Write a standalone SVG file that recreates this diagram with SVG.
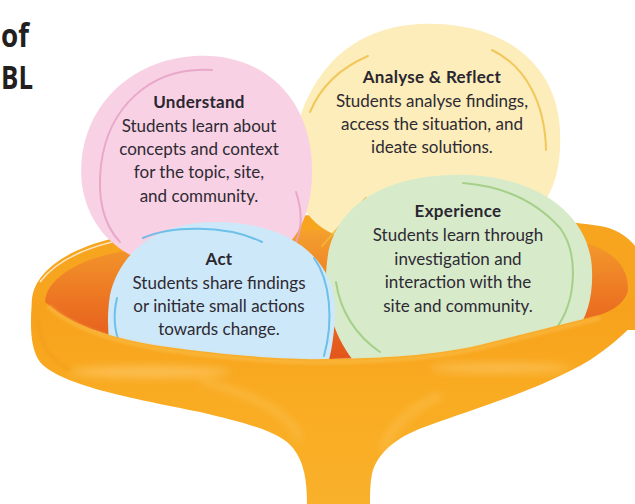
<svg xmlns="http://www.w3.org/2000/svg" width="635" height="504" viewBox="0 0 635 504">
  <defs>
    <linearGradient id="gInterior" x1="0" y1="230" x2="0" y2="360" gradientUnits="userSpaceOnUse">
      <stop offset="0" stop-color="#F4A02E"/>
      <stop offset="0.55" stop-color="#EC7422"/>
      <stop offset="1" stop-color="#E2541B"/>
    </linearGradient>
    <linearGradient id="gFace" x1="0" y1="300" x2="0" y2="504" gradientUnits="userSpaceOnUse">
      <stop offset="0" stop-color="#F7A11C"/>
      <stop offset="0.5" stop-color="#F9AC22"/>
      <stop offset="1" stop-color="#F9B02A"/>
    </linearGradient>
    <filter id="soft" x="-20%" y="-50%" width="140%" height="200%">
      <feGaussianBlur stdDeviation="4"/>
    </filter>
    <filter id="softer" x="-20%" y="-50%" width="140%" height="200%">
      <feGaussianBlur stdDeviation="1.5"/>
    </filter>
  </defs>
  <style>
    .head { font-family: Lato, "Liberation Sans", sans-serif; font-weight: 700; font-size: 17px; fill: #2a2630; text-anchor: middle; letter-spacing: 0.3px; }
    .body { font-family: Lato, "Liberation Sans", sans-serif; font-weight: 400; font-size: 17px; fill: #2e2a33; text-anchor: middle; }
    .title { font-family: "Open Sans", "Liberation Sans", sans-serif; font-weight: 700; font-size: 32px; fill: #231f20; }
    .arc { fill: none; stroke-width: 2; stroke-linecap: round; opacity: 0.85; }
  </style>

  <rect width="635" height="504" fill="#ffffff"/>

  <!-- heading tail at the top left -->
  <g id="title">
    <text class="title" x="1" y="47" textLength="28" lengthAdjust="spacingAndGlyphs">of</text>
    <text class="title" x="1" y="89" textLength="32" lengthAdjust="spacingAndGlyphs">BL</text>
  </g>

  <!-- funnel: back rim and inside -->
  <g id="funnel-back">
    <path d="M32,305 C30,280 55,252 115,238 C250,208 470,206 600,226 C625,230 642,248 650,275 L650,330 L32,330 Z" fill="#F7A41E"/>
    <path d="M45,302 C46,280 75,262 110,254 C250,224 450,222 580,242 C610,248 628,265 628,288 C628,300 615,310 600,315 C560,325 520,335 480,345 C440,354 400,358 330,359 C290,360 230,356 160,346 C110,338 70,325 45,302 Z" fill="url(#gInterior)"/>
    <path d="M40,282 C55,262 80,250 112,242" fill="none" stroke="#ffffff" stroke-width="1.5" opacity="0.7"/>
  </g>

  <!-- Analyse & Reflect -->
  <g id="node-analyse">
    <path d="M420,24 C500,21 556,60 560,130 C563,190 540,232 470,242 C400,252 330,250 305,210 C285,170 290,110 330,64 C355,37 385,26 420,24 Z" fill="#FCEDBA"/>
    <path class="arc" d="M310,112 C320,88 340,68 368,56" stroke="#F0C04A"/>
    <path class="arc" d="M492,50 C525,66 545,102 546,150" stroke="#F0C04A"/>
    <path class="arc" d="M366,198 C350,215 336,230 322,246" stroke="#F0B93A"/>
    <text class="head" x="432" y="83">Analyse &amp; Reflect</text>
    <text class="body" x="432" y="107">Students analyse findings,</text>
    <text class="body" x="432" y="130">access the situation, and</text>
    <text class="body" x="432" y="153">ideate solutions.</text>
  </g>

  <!-- Understand -->
  <g id="node-understand">
    <path d="M195,56 C265,52 312,100 312,170 C312,230 285,268 220,272 C150,275 92,250 82,185 C74,115 125,60 195,56 Z" fill="#F8D1E4"/>
    <path class="arc" d="M212,70 C150,66 108,108 101,165 C97,200 104,225 120,242" stroke="#E6A1C6"/>
    <path class="arc" d="M296,192 C302,210 303,226 296,242" stroke="#E6A1C6"/>
    <text class="head" x="199" y="108">Understand</text>
    <text class="body" x="199" y="132">Students learn about</text>
    <text class="body" x="199" y="155">concepts and context</text>
    <text class="body" x="199" y="178">for the topic, site,</text>
    <text class="body" x="199" y="202">and community.</text>
  </g>

  <!-- Experience -->
  <g id="node-experience">
    <path d="M450,175 C530,172 590,210 592,270 C594,320 572,352 520,364 L360,368 C335,342 322,302 327,262 C333,205 385,177 450,175 Z" fill="#D7EBCB"/>
    <path class="arc" d="M463,183 C500,186 535,200 560,228 C578,252 578,300 555,330" stroke="#9DCB7E"/>
    <path class="arc" d="M336,282 C340,310 355,335 380,352" stroke="#9DCB7E"/>
    <text class="head" x="458" y="217">Experience</text>
    <text class="body" x="458" y="241">Students learn through</text>
    <text class="body" x="458" y="265">investigation and</text>
    <text class="body" x="458" y="288">interaction with the</text>
    <text class="body" x="458" y="312">site and community.</text>
  </g>

  <!-- Act -->
  <g id="node-act">
    <path d="M215,222 C290,222 338,260 335,315 C334,340 330,360 325,372 L115,372 C108,345 106,320 110,295 C120,250 160,222 215,222 Z" fill="#CDE8F8"/>
    <path class="arc" d="M143,238 C170,226 225,224 262,242" stroke="#5CB8E6"/>
    <path class="arc" d="M314,258 C330,280 334,320 324,356" stroke="#5CB8E6"/>
    <path class="arc" d="M117,298 C113,315 114,330 120,344" stroke="#5CB8E6"/>
    <text class="head" x="219" y="265">Act</text>
    <text class="body" x="219" y="289">Students share findings</text>
    <text class="body" x="219" y="312">or initiate small actions</text>
    <text class="body" x="219" y="335">towards change.</text>
  </g>

  <!-- funnel: front wall, cone and spout -->
  <g id="funnel-front">
    <path d="M32,300 L45,302 C70,325 110,338 160,346 C230,356 290,360 330,359 C400,358 440,354 480,345 C520,335 560,325 600,315 C620,308 640,295 650,280 L650,300 C640,320 620,340 590,360 C540,390 470,410 430,425 C400,435 380,450 373,470 C370,480 370,495 370,504 L307,504 C307,480 304,462 293,448 C280,432 250,424 200,412 C130,398 60,385 40,362 C30,348 30,325 32,300 Z" fill="url(#gFace)"/>
    <path d="M48,306 C72,328 112,341 160,349 C230,359 290,363 330,362 C400,361 440,357 480,348 C520,338 560,328 600,318" fill="none" stroke="#FBC04C" stroke-width="4" opacity="0.6" filter="url(#softer)"/>
    <ellipse cx="150" cy="372" rx="80" ry="6" fill="#FFD27A" opacity="0.55" filter="url(#soft)"/>
    <ellipse cx="500" cy="368" rx="70" ry="5" fill="#FFD27A" opacity="0.5" filter="url(#soft)"/>
    <path d="M200,380 C250,395 290,410 300,440" fill="none" stroke="#FFD27A" stroke-width="5" opacity="0.45" filter="url(#soft)"/>
    <path d="M440,395 C410,410 392,425 382,450" fill="none" stroke="#FFD27A" stroke-width="5" opacity="0.5" filter="url(#soft)"/>
    <path d="M38,320 C40,345 50,360 70,370" fill="none" stroke="#F29A1A" stroke-width="4" opacity="0.5" filter="url(#softer)"/>
  </g>
</svg>
